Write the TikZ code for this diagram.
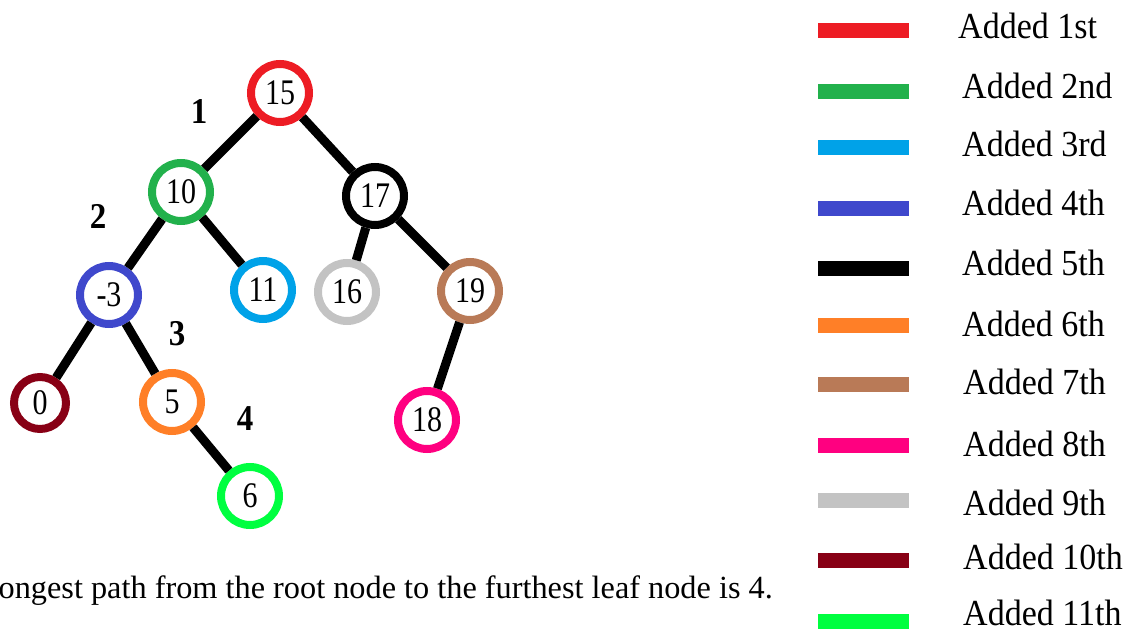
\documentclass[tikz,border=0pt]{standalone}
\usepackage{fontspec}
\setmainfont{Liberation Serif}
\definecolor{cRed}{HTML}{ED1C24}
\definecolor{cGreen}{HTML}{22B14C}
\definecolor{cCyan}{HTML}{00A2E8}
\definecolor{cIndigo}{HTML}{3F48CC}
\definecolor{cOrange}{HTML}{FF7F27}
\definecolor{cBrown}{HTML}{B97A57}
\definecolor{cPink}{HTML}{FF0080}
\definecolor{cGray}{HTML}{C3C3C3}
\definecolor{cMaroon}{HTML}{880015}
\definecolor{cLime}{HTML}{00FF40}
\newcommand{\talltext}[2][1.2]{\scalebox{1}[#1]{#2}}
\begin{document}
\begin{tikzpicture}[x=1pt,y=-1pt,
  tnode/.style={circle,draw=#1,line width=8pt,minimum size=58pt,inner sep=0pt,
    font=\fontsize{30}{30}\selectfont,fill=white},
  tedge/.style={line width=9pt,black},
  lvl/.style={font=\fontsize{33}{33}\selectfont\bfseries,inner sep=0pt,anchor=base},
  legbar/.style={fill=#1,draw=none,minimum width=91pt,minimum height=15pt,inner sep=0pt},
  leg/.style={font=\fontsize{34}{34}\selectfont,anchor=base west,inner sep=0pt}]
\useasboundingbox (0,0) rectangle (1128,634);
% tree nodes
\node[tnode=cRed]    (n15) at (280,93)  {\talltext{15}};
\node[tnode=cGreen]  (n10) at (181,192) {\talltext{10}};
\node[tnode=black]   (n17) at (375,196) {\talltext{17}};
\node[tnode=cIndigo] (nm3) at (109,295) {\talltext{-3}};
\node[tnode=cCyan]   (n11) at (263,290) {\talltext{11}};
\node[tnode=cGray]   (n16) at (347,292) {\talltext{16}};
\node[tnode=cBrown]  (n19) at (470,291) {\talltext{19}};
\node[tnode=cMaroon,minimum size=52pt] (n0) at (40,403) {\talltext{0}};
\node[tnode=cOrange] (n5)  at (172,402) {\talltext{5}};
\node[tnode=cPink]   (n18) at (427,420) {\talltext{18}};
\node[tnode=cLime]   (n6)  at (250,496) {\talltext{6}};
% edges
\draw[tedge] (n15) -- (n10);
\draw[tedge] (n15) -- (n17);
\draw[tedge] (n10) -- (nm3);
\draw[tedge] (n10) -- (n11);
\draw[tedge] (n17) -- (n16);
\draw[tedge] (n17) -- (n19);
\draw[tedge] (nm3) -- (n0);
\draw[tedge] (nm3) -- (n5);
\draw[tedge] (n19) -- (n18);
\draw[tedge] (n5)  -- (n6);
% level labels
\node[lvl] (l1) at (199,123) {\talltext[1.1]{1}};
\node[lvl] (l2) at (98,228)  {\talltext[1.1]{2}};
\node[lvl] (l3) at (177,345) {\talltext[1.1]{3}};
\node[lvl] (l4) at (245,430) {\talltext[1.1]{4}};
% caption (printed cut at the left edge in the reference)
\node[font=\fontsize{32.3}{32.3}\selectfont,anchor=base east,inner sep=0pt] (cap) at (773,598)
  {ongest path from the root node to the furthest leaf node is 4.};
% legend
\node[legbar=cRed]    (b1)  at (863.5,31)  {};
\node[legbar=cGreen]  (b2)  at (863.5,92)  {};
\node[legbar=cCyan]   (b3)  at (863.5,147) {};
\node[legbar=cIndigo] (b4)  at (863.5,208) {};
\node[legbar=black]   (b5)  at (863.5,268) {};
\node[legbar=cOrange] (b6)  at (863.5,325) {};
\node[legbar=cBrown]  (b7)  at (863.5,384) {};
\node[legbar=cPink]   (b8)  at (863.5,445) {};
\node[legbar=cGray]   (b9)  at (863.5,500) {};
\node[legbar=cMaroon] (b10) at (863.5,560) {};
\node[legbar=cLime]   (b11) at (863.5,621) {};
\node[leg] (t1)  at (958,39)  {\talltext[1.08]{Added 1st}};
\node[leg] (t2)  at (962,99)  {\talltext[1.08]{Added 2nd}};
\node[leg] (t3)  at (962,157) {\talltext[1.08]{Added 3rd}};
\node[leg] (t4)  at (962,215) {\talltext[1.08]{Added 4th}};
\node[leg] (t5)  at (962,275) {\talltext[1.08]{Added 5th}};
\node[leg] (t6)  at (962,336) {\talltext[1.08]{Added 6th}};
\node[leg] (t7)  at (963,394) {\talltext[1.08]{Added 7th}};
\node[leg] (t8)  at (963,456) {\talltext[1.08]{Added 8th}};
\node[leg] (t9)  at (963,515) {\talltext[1.08]{Added 9th}};
\node[leg] (t10) at (963,569) {\talltext[1.08]{Added 10th}};
\node[leg] (t11) at (963,625) {\talltext[1.08]{Added 11th}};
\end{tikzpicture}
\end{document}
